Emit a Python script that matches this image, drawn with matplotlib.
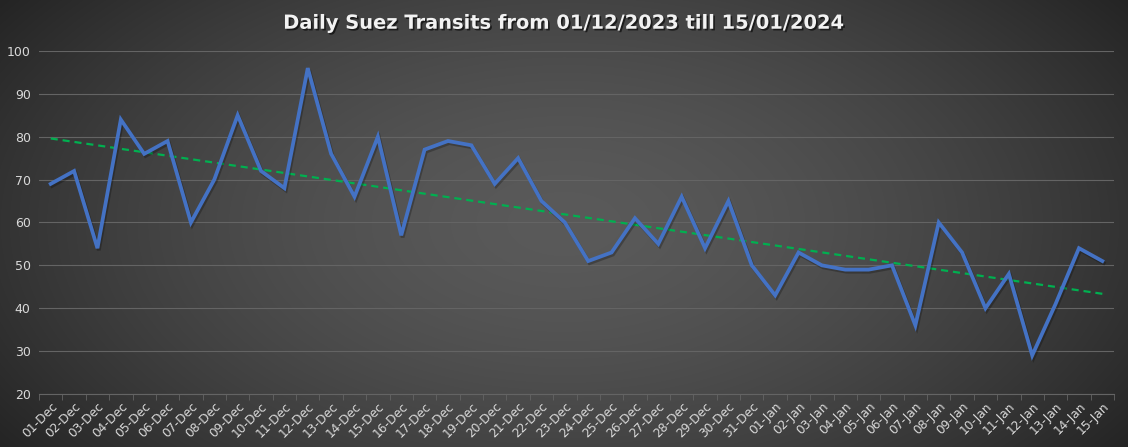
import numpy as np
import matplotlib
matplotlib.use("Agg")
import matplotlib.pyplot as plt
import matplotlib.patheffects as pe

dates = ["01-Dec","02-Dec","03-Dec","04-Dec","05-Dec","06-Dec","07-Dec","08-Dec","09-Dec","10-Dec",
         "11-Dec","12-Dec","13-Dec","14-Dec","15-Dec","16-Dec","17-Dec","18-Dec","19-Dec","20-Dec",
         "21-Dec","22-Dec","23-Dec","24-Dec","25-Dec","26-Dec","27-Dec","28-Dec","29-Dec","30-Dec",
         "31-Dec","01-Jan","02-Jan","03-Jan","04-Jan","05-Jan","06-Jan","07-Jan","08-Jan","09-Jan",
         "10-Jan","11-Jan","12-Jan","13-Jan","14-Jan","15-Jan"]
transits = [69, 72, 54, 84, 76, 79, 60, 70, 85, 72, 68, 96, 76, 66, 80, 57, 77, 79, 78, 69,
            75, 65, 60, 51, 53, 61, 55, 66, 54, 65, 50, 43, 53, 50, 49, 49, 50, 36, 60, 53,
            40, 48, 29, 41, 54, 51]
yticks = [20, 30, 40, 50, 60, 70, 80, 90, 100]

fig = plt.figure(figsize=(11.28, 4.47), dpi=100)

# radial gradient background
bg = fig.add_axes([0, 0, 1, 1], zorder=-10)
h, w = 447, 1128
yy, xx = np.mgrid[0:h, 0:w]
r = np.sqrt(((xx - w / 2) / (w / 2)) ** 2 + ((yy - h / 2) / (h / 2)) ** 2 * 0.5) / np.sqrt(1.5)
inner, outer = 0x5a / 255, 0x24 / 255
val = inner + (outer - inner) * np.clip(r, 0, 1) ** 1.6
bg.imshow(np.dstack([val, val, val]), aspect="auto", extent=[0, 1, 0, 1], origin="upper")
bg.axis("off")

ax = fig.add_axes([0.0346, 0.1186, 0.9530, 0.7674])
ax.patch.set_alpha(0)
x = np.arange(len(dates))

ax.plot(x, transits, color="#4472C4", lw=2.7, solid_joinstyle="miter", zorder=3,
        path_effects=[pe.SimpleLineShadow(offset=(1, -1.5), shadow_color="black", alpha=0.25),
                      pe.Normal()])
coef = np.polyfit(x, transits, 1)
ax.plot(x, np.polyval(coef, x), color="#00B050", lw=1.6, ls=(0, (3.2, 2.2)), zorder=2)

ax.set_xlim(-0.5, len(dates) - 0.5)
ax.set_ylim(20, 100)
ax.set_yticks(yticks)
ax.set_xticks(x)
ax.set_xticklabels(dates, rotation=45, ha="right", rotation_mode="anchor")
ax.set_xticks(np.arange(-0.5, len(dates)), minor=True)
ax.grid(axis="y", color="#646464", lw=0.8)
ax.set_axisbelow(True)
for s in ["top", "right", "left"]:
    ax.spines[s].set_visible(False)
ax.spines["bottom"].set_color("#646464")
ax.tick_params(axis="y", length=0, labelsize=9, colors="#d9d9d9", pad=6)
ax.tick_params(axis="x", which="major", length=0, labelsize=8.8, colors="#d9d9d9", pad=4)
ax.tick_params(axis="x", which="minor", length=4, color="#646464")

title = "Daily Suez Transits from 01/12/2023 till 15/01/2024"
fig.text(0.5, 0.948, title, ha="center", va="center",
         fontsize=14, fontweight="bold", color="#f2f2f2",
         path_effects=[pe.SimplePatchShadow(offset=(1.2, -1.2), shadow_rgbFace="black", alpha=0.6),
                       pe.Normal()])

fig.savefig("out.png", dpi=100)
